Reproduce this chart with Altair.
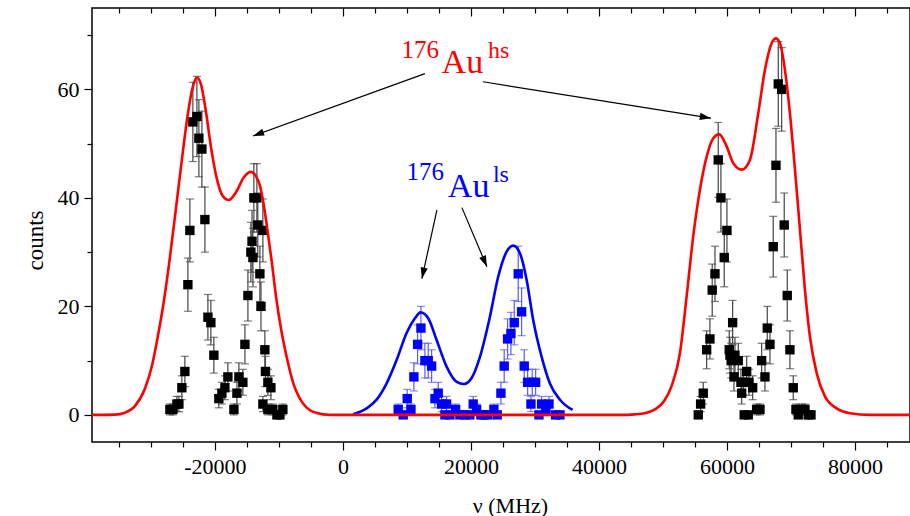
import altair as alt
import pandas as pd

# ---------------- data ----------------
# black squares (176Au high-spin), x in MHz, counts, error
black_x = [-27030, -26560, -25940, -25625, -25160, -24690, -24220, -23910, -23440, -22810,
           -22500, -22030, -21560, -21090, -20630, -20160, -19380, -18910, -18440, -17970,
           -17030, -16560, -16250, -15630, -15310, -14840, -14380, -14200, -14060, -13910,
           -13440, -13300, -12970, -12500, -12800, -12190, -12100, -11720, -11250, -12500,
           -11720, -10940, -10310, -9840, -9380,
           55520, 55890, 56300, 56830, 57340, 57700, 58130, 58640, 59060, 59580,
           60000, 60890, 60360, 60470, 60660, 61250, 61770, 61100, 62190, 62550,
           63080, 63440, 64020, 62300, 62700, 63330, 64640, 65160, 65420, 65940,
           66300, 66720, 67230, 67660, 68020, 68550, 68950, 69420, 69840, 70360,
           70780, 71140, 71670, 72190, 72700, 73130]
black_y = [1, 1, 2, 2, 5, 8, 24, 34, 54, 55,
           51, 49, 36, 18, 17, 11, 3, 4, 5, 7,
           1, 4, 7, 6, 13, 22, 30, 32, 29, 40,
           40, 35, 26, 34, 20, 12, 8, 6, 5, 2,
           1, 1, 0, 0, 1,
           0, 2, 4, 12, 14, 23, 26, 47, 40, 29,
           34, 17, 12, 11, 10, 11, 10, 7, 6, 6,
           8, 6, 5, 4, 0, 0, 1, 1, 10, 7,
           16, 13, 31, 46, 61, 60, 35, 22, 12, 5,
           1, 0, 1, 1, 0, 0]
black_err = [1, 1, 1.4, 1.4, 2.2, 2.8, 4.9, 5.8, 7.3, 7.4,
             7.1, 7, 6, 4.2, 4.1, 3.3, 1.7, 2, 2.2, 2.6,
             1, 2, 2.6, 2.4, 3.6, 4.7, 5.5, 5.7, 5.4, 6.3,
             6.3, 5.9, 5.1, 5.8, 4.5, 3.5, 2.8, 2.4, 2.2, 1.4,
             1, 1, 0, 0, 1,
             0, 1.4, 2, 3.5, 3.7, 4.8, 5.1, 6.9, 6.3, 5.4,
             5.8, 4.1, 3.5, 3.3, 3.2, 3.3, 3.2, 2.6, 2.4, 2.4,
             2.8, 2.4, 2.2, 2, 0, 0, 1, 1, 3.2, 2.6,
             4, 3.6, 5.6, 6.8, 7.8, 7.7, 5.9, 4.7, 3.5, 2.2,
             1, 0, 1, 1, 0, 0]

# blue squares (176Au low-spin)
blue_x = [8640, 9420, 10050, 10630, 11090, 11670, 12190, 12810, 13330, 13860,
          14380, 14890, 15420, 16200, 15940, 16720, 17610, 18280, 19060, 19840,
          20360, 20890, 21560, 22030, 22610, 23590, 24110, 24690, 25200, 25730,
          26250, 26770, 27390, 27920, 28330, 28860, 29580, 30110, 29380, 30630,
          31050, 31720, 32200, 33230, 33910]
blue_y = [1, 0, 3, 1, 7, 13, 16, 10, 10, 9,
          3, 4, 2, 2, 0, 0, 1, 0, 0, 0,
          2, 1, 0, 0, 0, 1, 0, 4, 9, 14,
          15, 17, 26, 19, 9, 6, 6, 6, 2, 0,
          2, 1, 2, 0, 0]
blue_err = [1, 0, 1.7, 1, 2.6, 3.6, 4, 3.2, 3.2, 3,
            1.7, 2, 1.4, 1.4, 0, 0, 1, 0, 0, 0,
            1.4, 1, 0, 0, 0, 1, 0, 2, 3, 3.7,
            3.9, 4.1, 5.1, 4.4, 3, 2.4, 2.4, 2.4, 1.4, 0,
            1.4, 1, 1.4, 0, 0]

# red fit curve (high-spin)
red_cx = [-39200, -35600, -34060, -32500, -30940, -29840, -28910, -27970, -27030, -26090,
          -25160, -24220, -23440, -22810, -22190, -21410, -20630, -19690, -18750, -17810,
          -16720, -15470, -14380, -13590, -12970, -12340, -11720, -11090, -10470, -9690,
          -8750, -7660, -6720, -5630, -4220, -2030, 43280, 45630, 47190, 48750,
          50160, 51410, 52660, 53700, 54730, 55780, 56830, 57860, 58800, 59950,
          60980, 62300, 63590, 64890, 65940, 66980, 67660, 68280, 69060, 69840,
          70630, 71410, 72190, 72970, 74020, 75310, 77140, 79220, 82340, 88600]
red_cy = [0, 0.05, 0.4, 1.6, 4.8, 9, 14.5, 21, 29, 38,
          47, 55.5, 60.5, 62.2, 61, 56, 49.5, 43.5, 40.3, 39.6,
          41, 43.8, 44.8, 44, 42.3, 38.5, 33.5, 28, 22, 16,
          10.5, 5.5, 3, 1.3, 0.4, 0, 0, 0.1, 0.3, 1,
          2.5, 5.5, 11.4, 21.8, 32.9, 41.5, 47.6, 51, 51.7, 49.5,
          46.4, 45.2, 47, 55.6, 63.6, 68.5, 69.4, 68.5, 63.6, 55.6,
          45.2, 34.1, 23, 14.4, 7.7, 3.4, 1.2, 0.3, 0, 0]

# blue fit curve (low-spin)
blue_cx = [1610, 3700, 5270, 6830, 8390, 9950, 11250, 12140, 13330, 14640,
           16200, 17770, 18910, 20110, 21410, 22970, 24270, 25580, 26610, 27660,
           28700, 29730, 31050, 32340, 33910, 35890]
blue_cy = [0.1, 1.2, 2.8, 5.8, 10.1, 15.1, 17.8, 18.9, 17.8, 13.8,
           8.9, 6.1, 5.7, 6.8, 10.7, 18.1, 25.5, 30.1, 31.2, 29.8,
           24.9, 17.5, 10.7, 5.8, 2.8, 0.9]

# axis ticks
x_major = [-20000, 0, 20000, 40000, 60000, 80000]
x_minor = [-35000, -30000, -25000, -15000, -10000, -5000, 5000, 10000, 15000, 25000,
           30000, 35000, 45000, 50000, 55000, 65000, 70000, 75000, 85000]
y_major = [0, 20, 40, 60]
y_minor = [10, 30, 50, 70]

# annotation texts (pieces of "176Au hs" / "176Au ls")
lab_text = ["176", "Au", "hs", "176", "Au", "ls"]
lab_x = [9170, 15420, 22650, 9950, 16400, 23440]
lab_y = [65.7, 63.0, 65.7, 43.3, 40.2, 42.9]
lab_size = [25, 34, 24, 25, 34, 24]
lab_color = ["#ff0000", "#ff0000", "#ff0000", "#0000ff", "#0000ff", "#0000ff"]

# arrows: start -> tip
arr_x = [12810, 21880, 14690, 18590]
arr_y = [62.9, 61.4, 37.8, 38.2]
arr_x2 = [-14060, 57500, 12340, 22500]
arr_y2 = [51.4, 54.7, 25.1, 27.3]
arr_angle = [250, 99, 192, 157]

# ---------------- build ----------------
W, H = 818, 434
XS = alt.Scale(domain=[-39200, 88600], nice=False, zero=False)
YS = alt.Scale(domain=[-5, 75], nice=False, zero=False)

black = pd.DataFrame({"x": black_x, "y": black_y, "e": black_err})
black["lo"] = black["y"] - black["e"]
black["hi"] = black["y"] + black["e"]
blue = pd.DataFrame({"x": blue_x, "y": blue_y, "e": blue_err})
blue["lo"] = blue["y"] - blue["e"]
blue["hi"] = blue["y"] + blue["e"]
black_eb = black[black["e"] > 0]
blue_eb = blue[blue["e"] > 0]

red_c = pd.DataFrame({"x": red_cx, "y": red_cy})
blue_c = pd.DataFrame({"x": blue_cx, "y": blue_cy})
labels = pd.DataFrame({"x": lab_x, "y": lab_y, "t": lab_text, "s": lab_size, "c": lab_color})
arrows = pd.DataFrame({"x": arr_x, "y": arr_y, "x2": arr_x2, "y2": arr_y2, "a": arr_angle})

FONT = "Liberation Serif"

ax_x_major = alt.Axis(orient="bottom", values=x_major, tickSize=8, tickWidth=1.2, tickColor="black",
                      labelExpr="datum.value < 0 ? '-' + abs(datum.value) : '' + datum.value",
                      labelFontSize=22, labelPadding=6, labelColor="black", labelFont=FONT,
                      title="ν (MHz)", titleFontSize=22, titleFont=FONT, titleFontWeight="normal",
                      titleColor="black", titleX=418, titleY=70, titleBaseline="alphabetic",
                      grid=False, domain=False, labelFlush=False)
ax_x_minor = alt.Axis(orient="bottom", values=x_minor, tickSize=5, tickWidth=1.2, tickColor="black",
                      labels=False, title=None, grid=False, domain=False)
ax_x_top_major = alt.Axis(orient="bottom", values=x_major, tickSize=8, tickWidth=1.2, tickColor="black",
                          labels=False, title=None, grid=False, domain=False, offset=-H)
ax_x_top_minor = alt.Axis(orient="bottom", values=x_minor, tickSize=5, tickWidth=1.2, tickColor="black",
                          labels=False, title=None, grid=False, domain=False, offset=-H)
ax_y_major = alt.Axis(orient="left", values=y_major, tickSize=8, tickWidth=1.2, tickColor="black",
                      labelFontSize=22, labelPadding=5, labelColor="black", labelFont=FONT,
                      title="counts", titleFontSize=23, titleFont=FONT, titleFontWeight="normal",
                      titleColor="black", titleX=-57, titleY=232, titleAngle=270,
                      titleBaseline="middle", titleAlign="center",
                      grid=False, domain=False)
ax_y_minor = alt.Axis(orient="left", values=y_minor, tickSize=5, tickWidth=1.2, tickColor="black",
                      labels=False, title=None, grid=False, domain=False)

def xq(field, axis=None):
    return alt.X(f"{field}:Q", scale=XS, axis=axis)

def yq(field, axis=None):
    return alt.Y(f"{field}:Q", scale=YS, axis=axis)

layers = []
# black error bars (carry main axes)
layers.append(alt.Chart(black_eb).mark_rule(color="#444444", strokeWidth=1.2).encode(
    x=xq("x", ax_x_major), y=yq("lo", ax_y_major), y2="hi"))
layers.append(alt.Chart(black_eb).mark_tick(color="#444444", orient="horizontal", size=8, thickness=1.2).encode(
    x=xq("x", ax_x_minor), y=yq("hi", ax_y_minor)))
layers.append(alt.Chart(black_eb).mark_tick(color="#444444", orient="horizontal", size=8, thickness=1.2).encode(
    x=xq("x", ax_x_top_major), y=yq("lo")))
# blue error bars
layers.append(alt.Chart(blue_eb).mark_rule(color="#5a5aff", strokeWidth=1.2).encode(
    x=xq("x", ax_x_top_minor), y=yq("lo"), y2="hi"))
layers.append(alt.Chart(blue_eb).mark_tick(color="#5a5aff", orient="horizontal", size=8, thickness=1.2).encode(
    x=xq("x"), y=yq("hi")))
layers.append(alt.Chart(blue_eb).mark_tick(color="#5a5aff", orient="horizontal", size=8, thickness=1.2).encode(
    x=xq("x"), y=yq("lo")))
# squares
layers.append(alt.Chart(black).mark_square(color="black", size=88, opacity=1).encode(x=xq("x"), y=yq("y")))
layers.append(alt.Chart(blue).mark_square(color="#0000ff", size=88, opacity=1).encode(x=xq("x"), y=yq("y")))
# fit curves
layers.append(alt.Chart(blue_c).mark_line(color="#0000ff", strokeWidth=2.6, interpolate="monotone").encode(
    x=xq("x"), y=yq("y")))
layers.append(alt.Chart(red_c).mark_line(color="#ff0000", strokeWidth=2.6, interpolate="monotone", clip=True).encode(
    x=xq("x"), y=yq("y")))
# arrows
layers.append(alt.Chart(arrows).mark_rule(color="black", strokeWidth=1.2).encode(
    x=xq("x"), y=yq("y"), x2="x2", y2="y2"))
layers.append(alt.Chart(arrows).mark_point(shape="M0,0L-0.32,1L0.32,1Z", filled=True, color="black",
                                           size=500, opacity=1).encode(
    x=xq("x2"), y=yq("y2"), angle=alt.Angle("a:Q", scale=None)))
# labels
layers.append(alt.Chart(labels).mark_text(align="left", baseline="alphabetic", font=FONT).encode(
    x=xq("x"), y=yq("y"), text="t:N", size=alt.Size("s:Q", scale=None), color=alt.Color("c:N", scale=None)))

chart = alt.layer(*layers).resolve_axis(x="independent", y="independent").properties(
    width=W, height=H, autosize=alt.AutoSizeParams(type="none"),
    padding={"left": 92, "top": 8, "right": 0, "bottom": 74},
    background="white",
).configure_view(stroke="black", strokeWidth=1.5).configure_axis(labelFont=FONT, titleFont=FONT)

chart.save("out.html", embed_options={"renderer": "svg", "actions": False})
